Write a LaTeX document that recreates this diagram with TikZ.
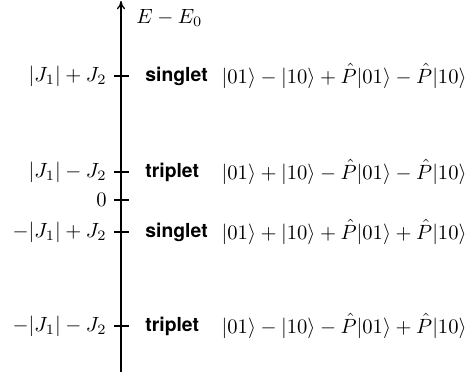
\documentclass[tikz,border=0pt]{standalone}
\usepackage{fontspec}
\newfontfamily\hv{TeX Gyre Heros}
\usetikzlibrary{arrows.meta}
\begin{document}
\begin{tikzpicture}[x=0.484bp,y=-0.484bp,
  axisline/.style={line width=0.65pt},
  tickmark/.style={line width=0.65pt},
  lvl/.style={anchor=east,inner sep=0pt,font=\fontsize{10}{12}\selectfont},
  kind/.style={anchor=west,inner sep=0pt,font=\fontsize{9.4}{11}\selectfont\hv\bfseries},
  ket/.style={anchor=east,inner sep=0pt,font=\fontsize{10}{12}\selectfont}]
\useasboundingbox (0,0) rectangle (474,378);
\coordinate (bot) at (121,372);
\coordinate (top) at (121,1);
\draw[axisline,-{To[length=4pt,width=4pt]}] (bot) -- (top);
\node[anchor=west,inner sep=0pt,font=\fontsize{10}{12}\selectfont] (axlab) at (136,18) {$E-E_0$};
% ticks
\foreach \n/\y in {a/76,b/172,c/200,d/232,e/326}{
  \coordinate (t\n l) at (114,\y);
  \coordinate (t\n r) at (129,\y);
  \draw[tickmark] (t\n l) -- (t\n r);
}
\node[lvl] (la) at (107,76) {$|J_1|+J_2$};
\node[lvl] (lb) at (107,172) {$|J_1|-J_2$};
\node[lvl] (lc) at (107,200) {$0$};
\node[lvl] (ld) at (107,232) {$-|J_1|+J_2$};
\node[lvl] (le) at (107,326) {$-|J_1|-J_2$};
\node[kind] (ka) at (145,76) {singlet};
\node[kind] (kb) at (145,172) {triplet};
\node[kind] (kd) at (145,232) {singlet};
\node[kind] (ke) at (145,326) {triplet};
\node[ket] (sa) at (467,76) {$|01\rangle-|10\rangle+\hat{P}|01\rangle-\hat{P}|10\rangle$};
\node[ket] (sb) at (467,172) {$|01\rangle+|10\rangle-\hat{P}|01\rangle-\hat{P}|10\rangle$};
\node[ket] (sd) at (467,232) {$|01\rangle+|10\rangle+\hat{P}|01\rangle+\hat{P}|10\rangle$};
\node[ket] (se) at (467,326) {$|01\rangle-|10\rangle-\hat{P}|01\rangle+\hat{P}|10\rangle$};
\end{tikzpicture}
\end{document}
